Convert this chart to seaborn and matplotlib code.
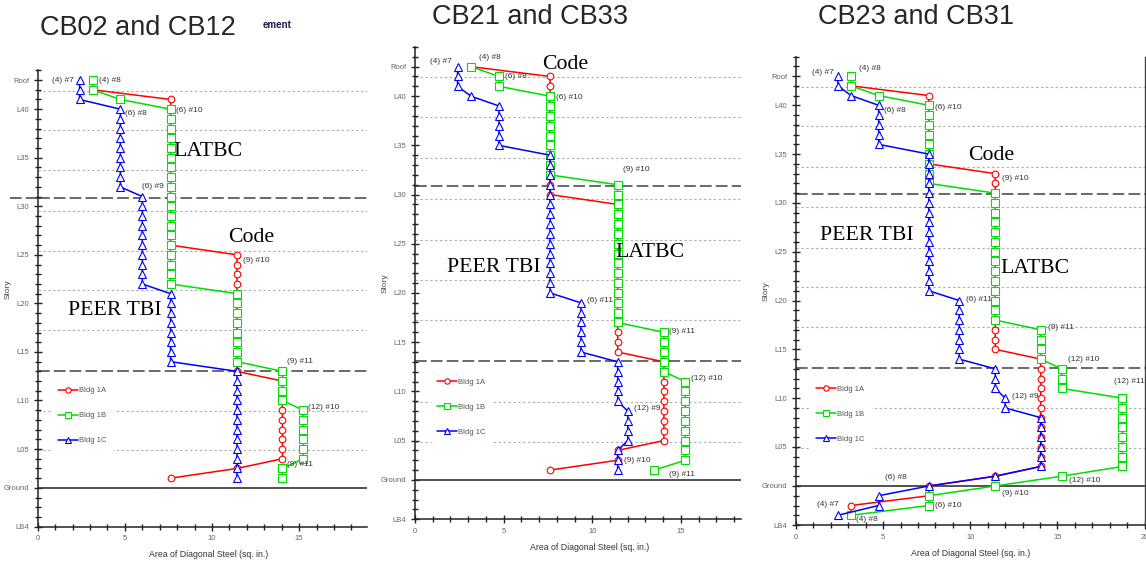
import matplotlib
matplotlib.use('Agg')
import matplotlib.pyplot as plt
import seaborn as sns

sns.set_style('white')
plt.rcParams['font.family'] = ['Liberation Sans', 'DejaVu Sans']

# Story index: LB4 = -3, Ground = 1, L05 = 5 ... L40 = 40, Roof = 43
story_ticks = [43, 40, 35, 30, 25, 20, 15, 10, 5, 1, -3]
story_labels = ['Roof', 'L40', 'L35', 'L30', 'L25', 'L20', 'L15', 'L10', 'L05', 'Ground', 'LB4']

# Light dotted group lines and darker dashed zone breaks
group_lines = [41.9, 37.85, 33.7, 29.55, 25.4, 21.35, 17.25, 8.95, 4.9]
zone_lines = [30.9, 13.05]

# ---- CB02 and CB12 (stories 43 down to 2) ----
cb02_stories = list(range(43, 1, -1))
cb02_1a_stories = list(range(42, 1, -1))
cb02_1a = [3.16,
           7.62, 7.62, 7.62, 7.62, 7.62, 7.62, 7.62, 7.62,
           7.62, 7.62, 7.62, 7.62, 7.62, 7.62, 7.62, 7.62,
           11.43, 11.43, 11.43, 11.43, 11.43, 11.43, 11.43,
           11.43, 11.43, 11.43, 11.43, 11.43, 11.43,
           14.04, 14.04, 14.04, 14.04, 14.04, 14.04, 14.04, 14.04, 14.04,
           11.43, 7.62]
cb02_1b = [3.16, 3.16, 4.74,
           7.62, 7.62, 7.62, 7.62, 7.62, 7.62, 7.62, 7.62, 7.62, 7.62,
           7.62, 7.62, 7.62, 7.62, 7.62, 7.62, 7.62, 7.62, 7.62,
           11.43, 11.43, 11.43, 11.43, 11.43, 11.43, 11.43, 11.43,
           14.04, 14.04, 14.04, 14.04,
           15.24, 15.24, 15.24, 15.24, 15.24, 15.24,
           14.04, 14.04]
cb02_1c = [2.4, 2.4, 2.4,
           4.74, 4.74, 4.74, 4.74, 4.74, 4.74, 4.74, 4.74, 4.74,
           6.0, 6.0, 6.0, 6.0, 6.0, 6.0, 6.0, 6.0, 6.0, 6.0,
           7.62, 7.62, 7.62, 7.62, 7.62, 7.62, 7.62, 7.62,
           11.43, 11.43, 11.43, 11.43, 11.43, 11.43,
           11.43, 11.43, 11.43, 11.43, 11.43, 11.43]

# ---- CB21 and CB33 (stories 43 down to 2) ----
cb21_stories = list(range(43, 1, -1))
cb21_1a = [3.16,
           7.62, 7.62, 7.62, 7.62, 7.62, 7.62, 7.62, 7.62, 7.62, 7.62, 7.62, 7.62, 7.62,
           11.43, 11.43, 11.43, 11.43, 11.43, 11.43, 11.43, 11.43,
           11.43, 11.43, 11.43, 11.43, 11.43, 11.43, 11.43, 11.43,
           14.04, 14.04, 14.04, 14.04, 14.04, 14.04, 14.04, 14.04, 14.04,
           11.43, 11.43, 7.62]
cb21_1b = [3.16, 4.74, 4.74,
           7.62, 7.62, 7.62, 7.62, 7.62, 7.62, 7.62, 7.62, 7.62,
           11.43, 11.43, 11.43, 11.43, 11.43, 11.43, 11.43, 11.43,
           11.43, 11.43, 11.43, 11.43, 11.43, 11.43, 11.43,
           14.04, 14.04, 14.04, 14.04, 14.04,
           15.24, 15.24, 15.24, 15.24, 15.24, 15.24, 15.24, 15.24, 15.24,
           13.5]
cb21_1c = [2.4, 2.4, 2.4, 3.16,
           4.74, 4.74, 4.74, 4.74, 4.74,
           7.62, 7.62, 7.62, 7.62, 7.62, 7.62, 7.62, 7.62,
           7.62, 7.62, 7.62, 7.62, 7.62, 7.62, 7.62,
           9.36, 9.36, 9.36, 9.36, 9.36, 9.36,
           11.43, 11.43, 11.43, 11.43, 11.43,
           12.0, 12.0, 12.0, 12.0,
           11.43, 11.43, 11.43]

# ---- CB23 and CB31 (stories 43 down to LB3) ----
cb23_stories = list(range(43, -3, -1))
cb23_1a_stories = list(range(42, -3, -1))
cb23_1a = [3.16,
           7.62, 7.62, 7.62, 7.62, 7.62, 7.62, 7.62, 7.62,
           11.43, 11.43, 11.43, 11.43, 11.43, 11.43, 11.43, 11.43, 11.43, 11.43,
           11.43, 11.43, 11.43, 11.43, 11.43, 11.43, 11.43, 11.43, 11.43,
           14.04, 14.04, 14.04, 14.04, 14.04, 14.04,
           14.04, 14.04, 14.04, 14.04, 14.04, 14.04,
           11.43, 7.62, 7.62, 3.16, 3.16]
cb23_1b = [3.16, 3.16, 4.74,
           7.62, 7.62, 7.62, 7.62, 7.62, 7.62, 7.62, 7.62, 7.62,
           11.43, 11.43, 11.43, 11.43, 11.43, 11.43, 11.43,
           11.43, 11.43, 11.43, 11.43, 11.43, 11.43, 11.43,
           14.04, 14.04, 14.04, 14.04,
           15.24, 15.24, 15.24,
           18.72, 18.72, 18.72, 18.72, 18.72, 18.72, 18.72, 18.72,
           15.24, 11.43, 7.62, 7.62, 3.16]
cb23_1c = [2.4, 2.4, 3.16,
           4.74, 4.74, 4.74, 4.74, 4.74,
           7.62, 7.62, 7.62, 7.62, 7.62, 7.62, 7.62, 7.62,
           7.62, 7.62, 7.62, 7.62, 7.62, 7.62, 7.62,
           9.36, 9.36, 9.36, 9.36, 9.36, 9.36, 9.36,
           11.43, 11.43, 11.43,
           12.0, 12.0,
           14.04, 14.04, 14.04, 14.04, 14.04, 14.04,
           11.43, 7.62, 4.74, 4.74, 2.4]

# Bar callouts (text, x, y) per panel
cb02_notes = [('(4) #7', 0.82, 43), ('(4) #8', 3.52, 43), ('(6) #10', 7.93, 39.9),
              ('(6) #8', 5.01, 39.6), ('(6) #9', 5.98, 32.0), ('(9) #10', 11.78, 24.4),
              ('(9) #11', 14.3, 14.06), ('(12) #10', 15.5, 9.3), ('(9) #11', 14.3, 3.45)]
cb21_notes = [('(4) #7', 0.85, 43.5), ('(4) #8', 3.61, 43.9), ('(6) #8', 5.08, 41.95),
              ('(6) #10', 7.95, 39.9), ('(9) #10', 11.73, 32.5), ('(6) #11', 9.7, 19.2),
              ('(9) #11', 14.33, 16.1), ('(12) #10', 15.57, 11.3), ('(12) #9', 12.35, 8.3),
              ('(9) #10', 11.79, 2.93), ('(9) #11', 14.33, 1.6)]
cb23_notes = [('(4) #7', 0.9, 43.4), ('(4) #8', 3.61, 43.8), ('(6) #8', 5.07, 39.5),
              ('(6) #10', 8.0, 39.8), ('(9) #10', 11.84, 32.55), ('(6) #11', 9.75, 20.15),
              ('(9) #11', 14.44, 17.2), ('(12) #10', 15.6, 14.0), ('(12) #11', 18.24, 11.75),
              ('(12) #9', 12.4, 10.2), ('(6) #8', 5.1, 1.9), ('(12) #10', 15.66, 1.6),
              ('(9) #10', 11.84, 0.27), ('(6) #10', 7.97, -0.95), ('(4) #7', 1.19, -0.88),
              ('(4) #8', 3.44, -2.4)]

# Big method labels (text, x, y)
cb02_methods = [('LATBC', 7.77, 35.6), ('Code', 10.9, 26.8), ('PEER TBI', 1.74, 19.3)]
cb21_methods = [('Code', 7.16, 43.2), ('LATBC', 11.28, 24.1), ('PEER TBI', 1.8, 22.6)]
cb23_methods = [('Code', 9.87, 34.9), ('PEER TBI', 1.38, 26.7), ('LATBC', 11.7, 23.3)]

RED, GREEN, BLUE = '#ff0000', '#00dd00', '#0000ff'
marker_size = {'o': 4.8, 's': 5.6, '^': 5.6}


def draw_series(ax, stories, areas, color, marker, label):
    sns.lineplot(x=areas, y=stories, sort=False, estimator=None, ax=ax,
                 color=color, lw=1.1, marker=marker, markersize=marker_size[marker],
                 markerfacecolor='white', markeredgecolor=color,
                 markeredgewidth=0.8, label=label)


def style_panel(ax, xmax, ymax, legend_x, legend_y, right_spine=False):
    ax.set_xlim(0, xmax)
    ax.set_ylim(-3, ymax)
    for y in group_lines:
        ax.axhline(y, color='#b0b0b0', lw=0.8, ls=(0, (2.2, 2.2)), zorder=0)
    for y in zone_lines:
        ax.axhline(y, color='#505050', lw=1.2, ls=(0, (7, 2.5)), zorder=0)
    ax.axhline(1, color='#333333', lw=1.2, zorder=1)

    ax.set_yticks(story_ticks)
    ax.set_yticklabels(story_labels)
    ax.set_yticks(range(-3, int(ymax) + 1), minor=True)
    xt = [0, 5, 10, 15, 20]
    ax.set_xticks([t for t in xt if t <= xmax + 0.01])
    ax.set_xticks(range(0, int(xmax) + 1), minor=True)
    ax.tick_params(which='both', direction='inout', color='#222222', width=1,
                   labelsize=5.5, labelcolor='#666666', left=True, bottom=True)
    ax.tick_params(which='major', length=5.5)
    ax.tick_params(which='minor', length=4.5)

    for side in ['top', 'right']:
        ax.spines[side].set_visible(False)
    if right_spine:
        ax.spines['right'].set_visible(True)
        ax.spines['right'].set_color('#444444')
        ax.spines['right'].set_linewidth(1.0)
    for side in ['left', 'bottom']:
        ax.spines[side].set_visible(True)
        ax.spines[side].set_color('#222222')
        ax.spines[side].set_linewidth(1.1)

    ax.set_xlabel('Area of Diagonal Steel (sq. in.)', fontsize=6.3, color='#333333')
    ax.set_ylabel('Story', fontsize=6, color='#444444')

    leg = ax.legend(loc='center left', bbox_to_anchor=(legend_x, legend_y),
                    bbox_transform=ax.transData, fontsize=5.5, frameon=True,
                    facecolor='white', edgecolor='white', framealpha=1,
                    borderpad=0.8, borderaxespad=0, labelspacing=2.3,
                    handlelength=2.6, handletextpad=0.15, markerscale=0.8)
    for t in leg.get_texts():
        t.set_color('#555555')
    leg.set_zorder(5)


def add_text(ax, notes, methods):
    for txt, x, y in notes:
        ax.text(x, y, txt, fontsize=6, color='#333333', ha='left', va='center', zorder=6)
    for txt, x, y in methods:
        ax.text(x, y, txt, fontsize=15.7, family='Liberation Serif', color='black',
                ha='left', va='center', zorder=6)


fig = plt.figure(figsize=(11.46, 5.64), dpi=100)
ax1 = fig.add_axes([0.0329, 0.0661, 0.2875, 0.8092])
ax2 = fig.add_axes([0.3621, 0.0793, 0.2847, 0.8374])
ax3 = fig.add_axes([0.6946, 0.0691, 0.3042, 0.8307])

# CB02 and CB12
draw_series(ax1, cb02_1a_stories, cb02_1a, RED, 'o', 'Bldg 1A')
draw_series(ax1, cb02_stories, cb02_1b, GREEN, 's', 'Bldg 1B')
draw_series(ax1, cb02_stories, cb02_1c, BLUE, '^', 'Bldg 1C')
style_panel(ax1, 18.9, 44, 0.82, 8.43)
add_text(ax1, cb02_notes, cb02_methods)
ax1.plot([-1.6, 0], [30.9, 30.9], color='#505050', lw=1.2, ls=(0, (7, 2.5)), clip_on=False)

# CB21 and CB33
draw_series(ax2, cb21_stories, cb21_1a, RED, 'o', 'Bldg 1A')
draw_series(ax2, cb21_stories, cb21_1b, GREEN, 's', 'Bldg 1B')
draw_series(ax2, cb21_stories, cb21_1c, BLUE, '^', 'Bldg 1C')
style_panel(ax2, 18.4, 45, 0.9, 8.4)
add_text(ax2, cb21_notes, cb21_methods)

# CB23 and CB31
draw_series(ax3, cb23_1a_stories, cb23_1a, RED, 'o', 'Bldg 1A')
draw_series(ax3, cb23_stories, cb23_1b, GREEN, 's', 'Bldg 1B')
draw_series(ax3, cb23_stories, cb23_1c, BLUE, '^', 'Bldg 1C')
style_panel(ax3, 20, 45, 0.8, 8.34, right_spine=True)
add_text(ax3, cb23_notes, cb23_methods)

# Axis label placement
ax1.xaxis.set_label_coords(0.52, -0.052)
ax2.xaxis.set_label_coords(0.536, -0.05)
ax3.xaxis.set_label_coords(0.5, -0.052)
ax1.yaxis.set_label_coords(-0.078, 0.52)
ax2.yaxis.set_label_coords(-0.08, 0.5)
ax3.yaxis.set_label_coords(-0.075, 0.5)

# Panel titles
fig.text(0.0349, 0.950, 'CB02 and CB12', fontsize=19.5, ha='left', va='center')
fig.text(0.377, 0.970, 'CB21 and CB33', fontsize=19.5, ha='left', va='center')
fig.text(0.714, 0.970, 'CB23 and CB31', fontsize=19.5, ha='left', va='center')
fig.text(0.2295, 0.956, 'ement', fontsize=7, fontweight='bold', color='#1a1a4a',
         ha='left', va='center')

plt.savefig('out.png', dpi=100)
